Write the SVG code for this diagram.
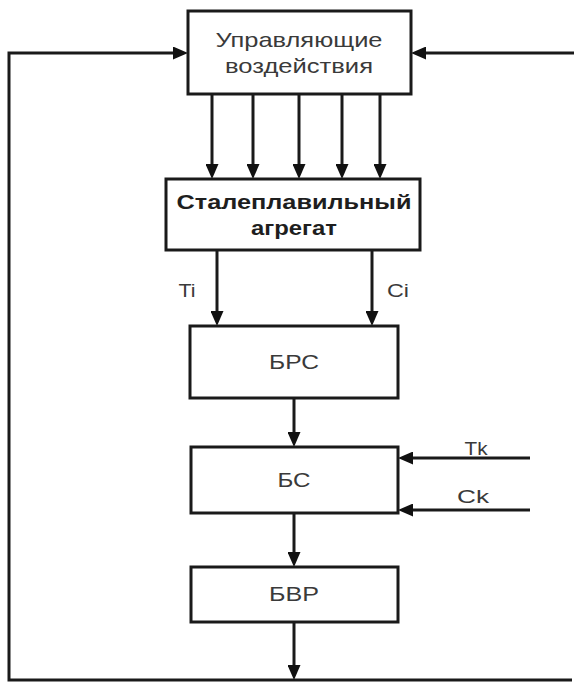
<svg xmlns="http://www.w3.org/2000/svg" width="574" height="683" viewBox="0 0 574 683">
<style>
.box{fill:#fff;stroke:#1a1a1a;stroke-width:3}
.ln{fill:none;stroke:#1a1a1a;stroke-width:3;marker-end:url(#ah)}
.t{font-family:"Liberation Sans",Arial,sans-serif;font-size:21px;fill:#3a3a3a;text-anchor:middle}
.b{font-family:"Liberation Sans",Arial,sans-serif;font-size:20px;font-weight:bold;fill:#1e1e1e;text-anchor:middle}
.l{font-family:"Liberation Sans",Arial,sans-serif;font-size:19px;fill:#3a3a3a;text-anchor:middle}
</style>
<defs>
<marker id="ah" viewBox="0 0 15 13" refX="10" refY="6.5" markerWidth="15" markerHeight="13" markerUnits="userSpaceOnUse" orient="auto">
<path d="M0,0 L15,6.5 L0,13 z" fill="#111"/>
</marker>
</defs>
<rect width="574" height="683" fill="#fff"/>
<g id="connectors">
<path class="ln" d="M572,680 H9 V53 H183"/>
<path class="ln" d="M574,53 H416"/>
<path class="ln" d="M212,94 V174"/>
<path class="ln" d="M253,94 V174"/>
<path class="ln" d="M299,94 V174"/>
<path class="ln" d="M342,94 V174"/>
<path class="ln" d="M380,94 V174"/>
<path class="ln" d="M217,250 V321"/>
<path class="ln" d="M372,250 V321"/>
<path class="ln" d="M294,398 V442"/>
<path class="ln" d="M294,513 V562"/>
<path class="ln" d="M294,622 V675"/>
<path class="ln" d="M530,458 H403"/>
<path class="ln" d="M530,510 H403"/>
<text class="l" x="187" y="297" textLength="17" lengthAdjust="spacingAndGlyphs">Ti</text>
<text class="l" x="398" y="297" textLength="22" lengthAdjust="spacingAndGlyphs">Ci</text>
<text class="l" x="476" y="455" textLength="23" lengthAdjust="spacingAndGlyphs">Tk</text>
<text class="l" x="473" y="503" textLength="32" lengthAdjust="spacingAndGlyphs">Ck</text>
</g>
<g id="control">
<rect class="box" x="188" y="11" width="223" height="83"/>
<text class="t" x="299" y="47" textLength="167" lengthAdjust="spacingAndGlyphs">Управляющие</text>
<text class="t" x="299" y="73" textLength="148" lengthAdjust="spacingAndGlyphs">воздействия</text>
</g>
<g id="furnace">
<rect class="box" x="166" y="179" width="254" height="71"/>
<text class="b" x="294" y="209" textLength="235" lengthAdjust="spacingAndGlyphs">Сталеплавильный</text>
<text class="b" x="294" y="235" textLength="86" lengthAdjust="spacingAndGlyphs">агрегат</text>
</g>
<g id="brs">
<rect class="box" x="190" y="326" width="208" height="72"/>
<text class="t" x="294" y="369" textLength="50" lengthAdjust="spacingAndGlyphs">БРС</text>
</g>
<g id="bs">
<rect class="box" x="191" y="447" width="207" height="66"/>
<text class="t" x="294" y="487" textLength="33" lengthAdjust="spacingAndGlyphs">БС</text>
</g>
<g id="bvr">
<rect class="box" x="191" y="567" width="207" height="55"/>
<text class="t" x="294" y="601" textLength="50" lengthAdjust="spacingAndGlyphs">БВР</text>
</g>
</svg>
